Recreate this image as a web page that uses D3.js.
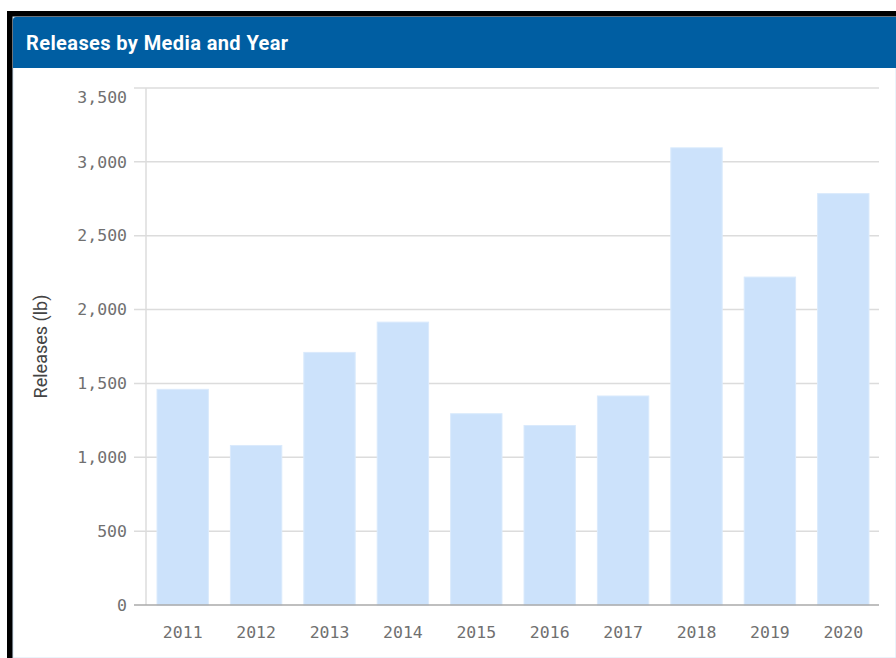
<!DOCTYPE html>
<html>
<head>
<meta charset="utf-8">
<script src="https://cdn.jsdelivr.net/npm/d3@7"></script>
<style>
  body { margin: 0; background: #fff; }
  svg { display: block; }
</style>
</head>
<body>
<div class="chart"></div>
<script>
const years = ['2011','2012','2013','2014','2015','2016','2017','2018','2019','2020'];
const releases = [1460, 1080, 1710, 1915, 1295, 1215, 1415, 3095, 2220, 2785];
const yTicks = [0, 500, 1000, 1500, 2000, 2500, 3000, 3500];

const W = 896, H = 658;
const margin = {top: 88, left: 146, bottom: 53, right: 16};

let svg = d3.select('.chart').append('svg')
    .attr('width', W)
    .attr('height', H);

// frame
svg.append('rect').attr('x', 7).attr('y', 11).attr('width', W - 7).attr('height', H - 11).attr('fill', '#000');
svg.append('rect').attr('x', 13).attr('y', 17).attr('width', W - 13).attr('height', H - 17)
    .attr('fill', '#fff').attr('stroke', '#d6e6f4').attr('stroke-width', 1);
svg.append('path')
    .attr('d', `M13,68 V20 Q13,17 16,17 H${W} V68 Z`)
    .attr('fill', '#005ea2');
svg.append('text')
    .attr('x', 26).attr('y', 50)
    .attr('fill', '#fff')
    .attr('font-family', 'Roboto, sans-serif')
    .attr('font-weight', 'bold')
    .attr('font-size', 20)
    .attr('letter-spacing', 0.4)
    .text('Releases by Media and Year');

const x = d3.scaleBand()
    .domain(years)
    .range([margin.left, W - margin.right])
    .paddingInner(0.3)
    .paddingOuter(0.15);

const y = d3.scaleLinear()
    .domain([0, 3500])
    .range([H - margin.bottom, margin.top]);

// gridlines
svg.append('g')
    .selectAll('line')
    .data(yTicks.filter(d => d > 0))
    .join('line')
    .attr('x1', margin.left - 12)
    .attr('x2', W - margin.right - 1)
    .attr('y1', d => y(d))
    .attr('y2', d => y(d))
    .attr('stroke', '#dcdcdc')
    .attr('stroke-width', 1.5);

svg.append('line')
    .attr('x1', margin.left).attr('x2', margin.left)
    .attr('y1', margin.top).attr('y2', y(0))
    .attr('stroke', '#dcdcdc').attr('stroke-width', 1.5);

// bars
svg.append('g')
    .selectAll('rect')
    .data(years)
    .join('rect')
    .attr('x', d => x(d))
    .attr('width', x.bandwidth())
    .attr('y', (d, i) => y(releases[i]))
    .attr('height', (d, i) => y(0) - y(releases[i]))
    .attr('fill', '#cce2fb')
    .attr('stroke', '#daeafc')
    .attr('stroke-width', 1);

// baseline
svg.append('line')
    .attr('x1', margin.left - 12).attr('x2', W - margin.right - 1)
    .attr('y1', y(0)).attr('y2', y(0))
    .attr('stroke', '#aaa').attr('stroke-width', 1.5);

const yAxis = d3.axisLeft(y)
    .tickValues(yTicks)
    .tickSize(0)
    .tickPadding(19)
    .tickFormat(d3.format(','));

let Y = svg.append('g')
    .attr('transform', `translate(${margin.left}, 0)`)
    .call(yAxis);
Y.select('.domain').remove();
Y.selectAll('text')
    .attr('font-family', '"DejaVu Sans Mono", monospace')
    .attr('font-size', 16.5)
    .attr('fill', '#707070')
    .attr('dy', d => d === 3500 ? '0.85em' : '0.32em');

const xAxis = d3.axisBottom(x).tickSize(0).tickPadding(21);
let X = svg.append('g')
    .attr('transform', `translate(0, ${y(0)})`)
    .call(xAxis);
X.select('.domain').remove();
X.selectAll('text')
    .attr('font-family', '"DejaVu Sans Mono", monospace')
    .attr('font-size', 16.5)
    .attr('fill', '#707070');

svg.append('text')
    .attr('transform', `translate(47, ${(margin.top + y(0)) / 2}) rotate(-90)`)
    .attr('text-anchor', 'middle')
    .attr('font-family', 'Roboto, sans-serif')
    .attr('font-size', 18)
    .attr('fill', '#444')
    .text('Releases (lb)');
</script>
</body>
</html>
